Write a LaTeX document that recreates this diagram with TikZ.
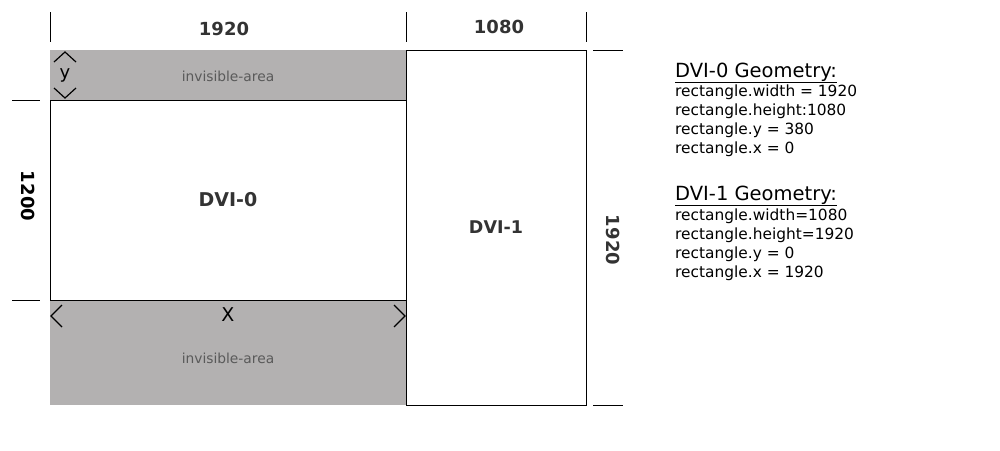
\documentclass[tikz,border=0pt]{standalone}
\usepackage{fontspec}
\setmainfont{DejaVu Sans}
\definecolor{hidegray}{RGB}{179,177,177}
\definecolor{labelgray}{RGB}{51,51,51}
\definecolor{areagray}{RGB}{90,90,90}
\tikzset{
  screen/.style={draw=black, fill=white, line width=1pt, inner sep=0pt,
                 minimum width=#1},
  band/.style={fill=hidegray, inner sep=0pt, minimum width=356pt, minimum height=#1},
  tick/.style={draw=black, line width=0.9pt},
  chev/.style={draw=black, line width=1.2pt},
  dimlbl/.style={text=labelgray, font=\fontsize{18}{20}\selectfont\bfseries},
  arealbl/.style={text=areagray, font=\fontsize{13.8}{15}\selectfont},
  geohead/.style={anchor=base west, inner sep=0pt, font=\fontsize{19.5}{22}\selectfont},
  geoline/.style={anchor=base west, inner sep=0pt, font=\fontsize{15.4}{19}\selectfont},
}
\begin{document}
\begin{tikzpicture}[x=1pt, y=-1pt]
  \useasboundingbox (0,0) rectangle (1000,450);

  % hidden parts of DVI-0
  \node[band=50pt]  (topband) at (228, 75)    {};
  \node[band=105pt] (botband) at (228, 352.5) {};
  \node[arealbl] (toparea) at (228, 76)  {invisible-area};
  \node[arealbl] (botarea) at (228, 358) {invisible-area};

  % screens
  \node[screen=356pt, minimum height=200pt] (dvi0) at (228, 200) {};
  \node[screen=180pt, minimum height=355pt] (dvi1) at (496, 227.5) {};
  \node[dimlbl, font=\fontsize{19}{20}\selectfont\bfseries] (dvi0lbl) at (dvi0.center) {DVI-0};
  \node[dimlbl, font=\fontsize{17.5}{20}\selectfont\bfseries] (dvi1lbl) at (dvi1.center) {DVI-1};

  % dimension ticks
  \foreach \x in {50, 406, 586}
    \draw[tick] (\x, 12) -- (\x, 42);
  \foreach \y in {100, 300}
    \draw[tick] (12, \y) -- (40, \y);
  \foreach \y in {50, 405}
    \draw[tick] (593, \y) -- (623, \y);

  \node[dimlbl] (w0) at (224, 29) {1920};
  \node[dimlbl] (w1) at (499, 27) {1080};
  \node[dimlbl, text=black, rotate=-90] (h0) at (28, 196) {1200};
  \node[dimlbl, rotate=-90] (h1) at (613, 240) {1920};

  % offsets
  \draw[chev] (54, 62) -- (65, 52) -- (76, 62);
  \draw[chev] (54, 88) -- (65, 98) -- (76, 88);
  \node[font=\fontsize{18}{20}\selectfont] (ylbl) at (65, 75) {y};
  \draw[chev] (62, 305) -- (51, 316) -- (62, 327);
  \draw[chev] (394, 305) -- (405, 316) -- (394, 327);
  \node[font=\fontsize{19}{20}\selectfont] (xlbl) at (228, 315) {X};

  % geometry notes
  \node[geohead] (g0) at (675, 77) {\underline{DVI-0 Geometry:}};
  \foreach \t [count=\i] in {{rectangle.width = 1920}, {rectangle.height:1080},
                             {rectangle.y = 380}, {rectangle.x = 0}}
    \node[geoline] (g0l\i) at (675, 77 + 19*\i) {\t};
  \node[geohead] (g1) at (675, 200) {\underline{DVI-1 Geometry:}};
  \foreach \t [count=\i] in {{rectangle.width=1080}, {rectangle.height=1920},
                             {rectangle.y = 0}, {rectangle.x = 1920}}
    \node[geoline] (g1l\i) at (675, 201 + 19*\i) {\t};
\end{tikzpicture}
\end{document}
